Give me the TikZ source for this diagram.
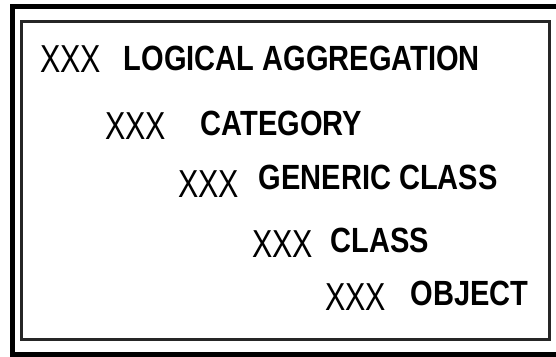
\documentclass[tikz,border=0pt]{standalone}
\usepackage{fontspec}
\newfontfamily\xfont[FakeStretch=0.78]{Liberation Sans}
\newfontfamily\bfont[FakeStretch=0.83]{Liberation Sans}
\begin{document}
\begin{tikzpicture}[x=1pt,y=-1pt,
  xxx/.style={anchor=base west,inner sep=0pt,font=\xfont\fontsize{39}{39}\selectfont},
  lbl/.style={anchor=base west,inner sep=0pt,font=\bfont\bfseries\fontsize{35}{35}\selectfont}]
\useasboundingbox (0,0) rectangle (556,356);
\clip (0,0) rectangle (556,356);
\fill[white] (0,0) rectangle (556,356);
\draw[line width=5pt] (560,6.5) -- (12.5,6.5) -- (12.5,354.5) -- (560,354.5);
\draw[line width=2.5pt,black!85] (21.5,21.5) rectangle (549.5,339.5);
\node[xxx] (x1) at (40,72) {XXX};
\node[lbl] (l1) at (123.5,70) {LOGICAL AGGREGATION};
\node[xxx] (x2) at (105,139) {XXX};
\node[lbl] (l2) at (200.5,135) {CATEGORY};
\node[xxx] (x3) at (178,197) {XXX};
\node[lbl] (l3) at (258.5,189) {GENERIC CLASS};
\node[xxx] (x4) at (252,257) {XXX};
\node[lbl] (l4) at (330.5,252) {CLASS};
\node[xxx] (x5) at (325,310) {XXX};
\node[lbl] (l5) at (410.5,305) {OBJECT};
\end{tikzpicture}
\end{document}
